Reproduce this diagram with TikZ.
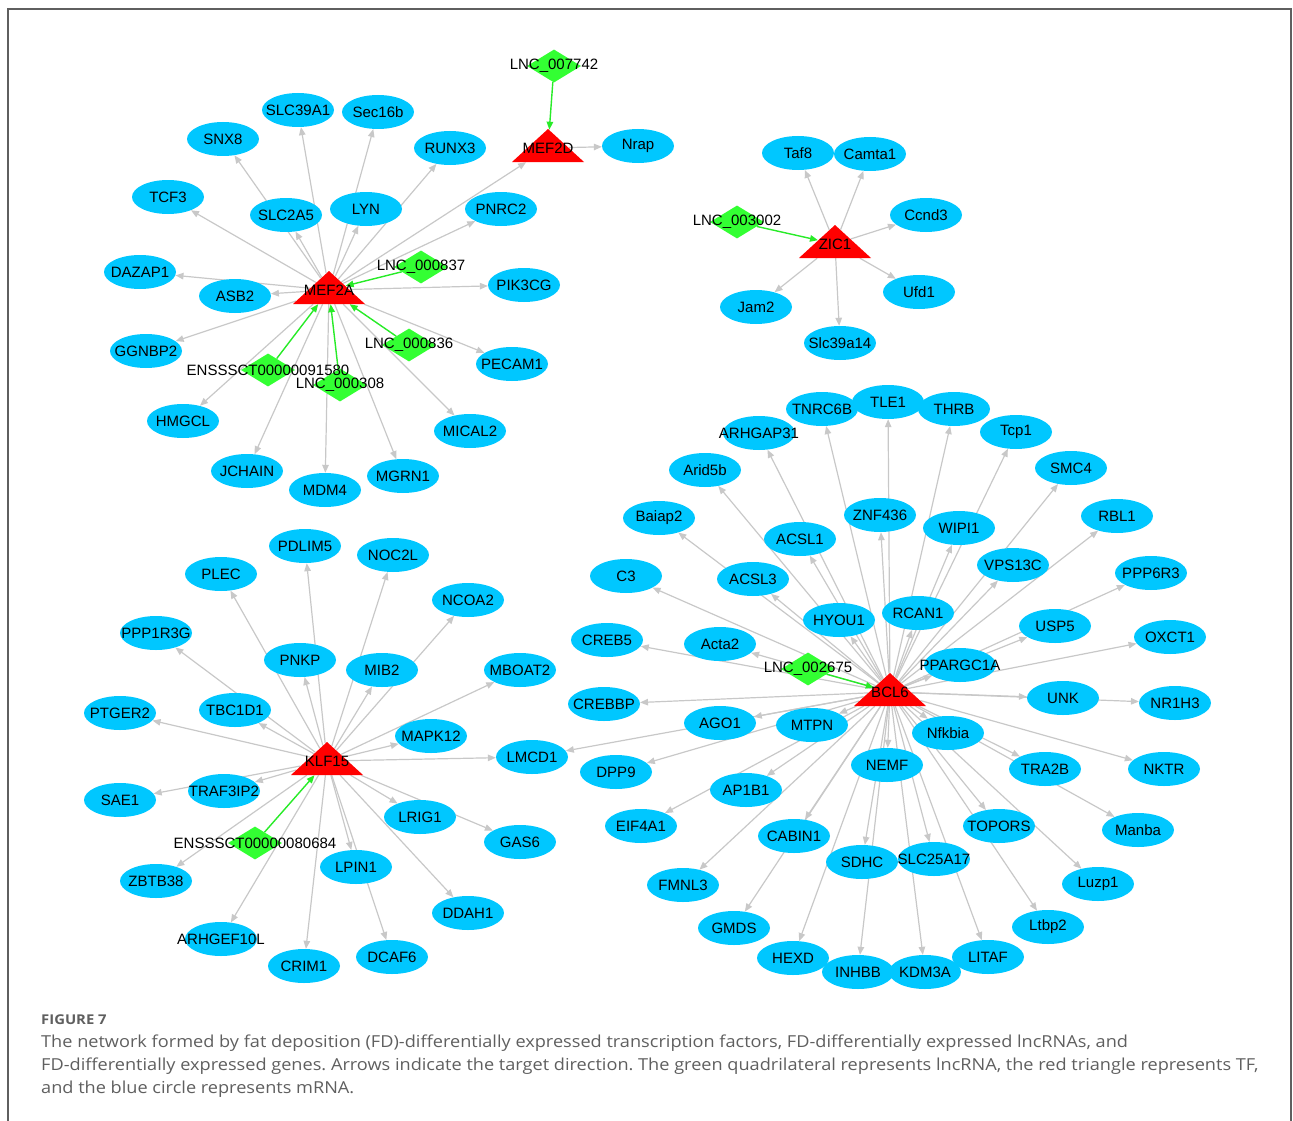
\documentclass[tikz,border=0pt]{standalone}
\usepackage{fontspec}
\setmainfont{Liberation Sans}
\newfontfamily\capfont[FakeStretch=1.1]{Open Sans}
\usepackage{xcolor}
\usepackage{tikz}
\usetikzlibrary{shapes.geometric, arrows.meta}
\pgfdeclarelayer{bg}
\pgfsetlayers{bg,main}
\definecolor{genecol}{RGB}{0,199,255}
\definecolor{lnccol}{RGB}{51,255,51}
\definecolor{tfcol}{RGB}{255,0,0}
\definecolor{edgecol}{RGB}{200,200,200}
\definecolor{lncedge}{RGB}{40,235,40}
\definecolor{capcol}{RGB}{95,95,95}
\frenchspacing

\begin{document}
\begin{tikzpicture}[x=1pt, y=-1pt, font=\fontsize{15}{16}\selectfont]
\tikzstyle{gene} = [ellipse, minimum width=72pt, minimum height=34pt, inner sep=0pt, fill=genecol]
\tikzstyle{lnc} = [diamond, minimum width=54pt, minimum height=33pt, inner sep=0pt, fill=lnccol]
\tikzstyle{tf} = [isosceles triangle, isosceles triangle stretches, shape border rotate=90, minimum width=72pt, minimum height=33pt, inner sep=0pt, fill=tfcol]
\tikzstyle{arrow} = [draw=edgecol, line width=1.2pt, -{Triangle[length=8pt,width=6.5pt]}]
\tikzstyle{lncarrow} = [draw=lncedge, line width=1.4pt, -{Triangle[length=8pt,width=6.5pt]}]
\tikzstyle{capline} = [anchor=base west, inner sep=0pt, text=capcol, font=\capfont\fontsize{16.5}{20}\selectfont]

\useasboundingbox (0,0) rectangle (1293,1121);
\draw [capcol, line width=2pt] (8,1121) -- (8,9) -- (1291,9) -- (1291,1121);

\node (MEF2A) [tf, label=center:MEF2A] at (329,290) {};
\node (MEF2D) [tf, label=center:MEF2D] at (548,148) {};
\node (ZIC1) [tf, label=center:ZIC1] at (835,244) {};
\node (KLF15) [tf, label=center:KLF15] at (327,761) {};
\node (BCL6) [tf, label=center:BCL6] at (890,692) {};

\node (Nrap) [gene, label=center:Nrap] at (638,146) {};
\node (SLC39A1) [gene, label=center:SLC39A1] at (298,110) {};
\node (Sec16b) [gene, label=center:Sec16b] at (378,112) {};
\node (SNX8) [gene, label=center:SNX8] at (223,139) {};
\node (RUNX3) [gene, label=center:RUNX3] at (450,148) {};
\node (TCF3) [gene, label=center:TCF3] at (168,197) {};
\node (SLC2A5) [gene, label=center:SLC2A5] at (286,215) {};
\node (LYN) [gene, label=center:LYN] at (366,209) {};
\node (PNRC2) [gene, label=center:PNRC2] at (501,209) {};
\node (DAZAP1) [gene, label=center:DAZAP1] at (140,272) {};
\node (ASB2) [gene, label=center:ASB2] at (235,296) {};
\node (PIK3CG) [gene, label=center:PIK3CG] at (524,285) {};
\node (GGNBP2) [gene, label=center:GGNBP2] at (146,351) {};
\node (PECAM1) [gene, label=center:PECAM1] at (512,364) {};
\node (HMGCL) [gene, label=center:HMGCL] at (183,421) {};
\node (MICAL2) [gene, label=center:MICAL2] at (470,431) {};
\node (JCHAIN) [gene, label=center:JCHAIN] at (247,471) {};
\node (MDM4) [gene, label=center:MDM4] at (325,490) {};
\node (MGRN1) [gene, label=center:MGRN1] at (403,476) {};
\node (lnc007742) [lnc, label=center:LNC\_007742] at (554,66) {};
\node (lnc000837) [lnc, label=center:LNC\_000837] at (421,267) {};
\node (lnc000836) [lnc, label=center:LNC\_000836] at (409,345) {};
\node (lnc000308) [lnc, label=center:LNC\_000308] at (340,385) {};
\node (ens91580) [lnc, label=center:ENSSSCT00000091580] at (268,370) {};

\node (Taf8) [gene, label=center:Taf8] at (798,153) {};
\node (Camta1) [gene, label=center:Camta1] at (870,154) {};
\node (Ccnd3) [gene, label=center:Ccnd3] at (926,215) {};
\node (Ufd1) [gene, label=center:Ufd1] at (919,292) {};
\node (Jam2) [gene, label=center:Jam2] at (756,307) {};
\node (Slc39a14) [gene, label=center:Slc39a14] at (840,343) {};
\node (lnc003002) [lnc, label=center:LNC\_003002] at (737,222) {};

\node (PDLIM5) [gene, label=center:PDLIM5] at (305,546) {};
\node (NOC2L) [gene, label=center:NOC2L] at (393,555) {};
\node (PLEC) [gene, label=center:PLEC] at (221,574) {};
\node (NCOA2) [gene, label=center:NCOA2] at (468,600) {};
\node (PPP1R3G) [gene, label=center:PPP1R3G] at (156,633) {};
\node (PNKP) [gene, label=center:PNKP] at (300,660) {};
\node (MIB2) [gene, label=center:MIB2] at (382,670) {};
\node (MBOAT2) [gene, label=center:MBOAT2] at (520,670) {};
\node (TBC1D1) [gene, label=center:TBC1D1] at (235,710) {};
\node (PTGER2) [gene, label=center:PTGER2] at (120,713) {};
\node (MAPK12) [gene, label=center:MAPK12] at (431,736) {};
\node (LMCD1) [gene, label=center:LMCD1] at (532,757) {};
\node (TRAF3IP2) [gene, label=center:TRAF3IP2] at (224,791) {};
\node (SAE1) [gene, label=center:SAE1] at (120,800) {};
\node (LRIG1) [gene, label=center:LRIG1] at (420,817) {};
\node (GAS6) [gene, label=center:GAS6] at (520,842) {};
\node (ZBTB38) [gene, label=center:ZBTB38] at (156,881) {};
\node (LPIN1) [gene, label=center:LPIN1] at (356,867) {};
\node (DDAH1) [gene, label=center:DDAH1] at (468,913) {};
\node (ARHGEF10L) [gene, label=center:ARHGEF10L] at (221,939) {};
\node (CRIM1) [gene, label=center:CRIM1] at (304,966) {};
\node (DCAF6) [gene, label=center:DCAF6] at (392,957) {};
\node (ens80684) [lnc, label=center:ENSSSCT00000080684] at (255,843) {};

\node (TLE1) [gene, label=center:TLE1] at (888,402) {};
\node (TNRC6B) [gene, label=center:TNRC6B] at (822,409) {};
\node (THRB) [gene, label=center:THRB] at (954,409) {};
\node (ARHGAP31) [gene, label=center:ARHGAP31] at (759,433) {};
\node (Tcp1) [gene, label=center:Tcp1] at (1016,432) {};
\node (Arid5b) [gene, label=center:Arid5b] at (705,470) {};
\node (SMC4) [gene, label=center:SMC4] at (1071,468) {};
\node (Baiap2) [gene, label=center:Baiap2] at (659,518) {};
\node (ZNF436) [gene, label=center:ZNF436] at (880,515) {};
\node (RBL1) [gene, label=center:RBL1] at (1117,516) {};
\node (ACSL1) [gene, label=center:ACSL1] at (800,539) {};
\node (WIPI1) [gene, label=center:WIPI1] at (959,528) {};
\node (VPS13C) [gene, label=center:VPS13C] at (1013,565) {};
\node (C3) [gene, label=center:C3] at (626,576) {};
\node (ACSL3) [gene, label=center:ACSL3] at (753,579) {};
\node (PPP6R3) [gene, label=center:PPP6R3] at (1151,573) {};
\node (HYOU1) [gene, label=center:HYOU1] at (839,620) {};
\node (RCAN1) [gene, label=center:RCAN1] at (918,613) {};
\node (USP5) [gene, label=center:USP5] at (1055,626) {};
\node (CREB5) [gene, label=center:CREB5] at (607,640) {};
\node (Acta2) [gene, label=center:Acta2] at (720,644) {};
\node (OXCT1) [gene, label=center:OXCT1] at (1170,637) {};
\node (PPARGC1A) [gene, label=center:PPARGC1A] at (960,665) {};
\node (CREBBP) [gene, label=center:CREBBP] at (604,704) {};
\node (UNK) [gene, label=center:UNK] at (1063,698) {};
\node (NR1H3) [gene, label=center:NR1H3] at (1175,703) {};
\node (AGO1) [gene, label=center:AGO1] at (720,723) {};
\node (MTPN) [gene, label=center:MTPN] at (812,725) {};
\node (Nfkbia) [gene, label=center:Nfkbia] at (948,733) {};
\node (DPP9) [gene, label=center:DPP9] at (616,772) {};
\node (NEMF) [gene, label=center:NEMF] at (887,765) {};
\node (TRA2B) [gene, label=center:TRA2B] at (1045,769) {};
\node (NKTR) [gene, label=center:NKTR] at (1164,769) {};
\node (AP1B1) [gene, label=center:AP1B1] at (746,790) {};
\node (EIF4A1) [gene, label=center:EIF4A1] at (641,826) {};
\node (TOPORS) [gene, label=center:TOPORS] at (999,826) {};
\node (Manba) [gene, label=center:Manba] at (1138,830) {};
\node (CABIN1) [gene, label=center:CABIN1] at (794,836) {};
\node (SDHC) [gene, label=center:SDHC] at (862,862) {};
\node (SLC25A17) [gene, label=center:SLC25A17] at (934,859) {};
\node (FMNL3) [gene, label=center:FMNL3] at (683,885) {};
\node (Luzp1) [gene, label=center:Luzp1] at (1098,884) {};
\node (GMDS) [gene, label=center:GMDS] at (734,928) {};
\node (Ltbp2) [gene, label=center:Ltbp2] at (1048,927) {};
\node (HEXD) [gene, label=center:HEXD] at (793,958) {};
\node (LITAF) [gene, label=center:LITAF] at (988,957) {};
\node (INHBB) [gene, label=center:INHBB] at (858,972) {};
\node (KDM3A) [gene, label=center:KDM3A] at (925,972) {};
\node (lnc002675) [lnc, label=center:LNC\_002675] at (808,669) {};

\begin{pgfonlayer}{bg}
\draw [arrow] (MEF2A) -- (DAZAP1);
\draw [arrow] (MEF2A) -- (ASB2);
\draw [arrow] (MEF2A) -- (TCF3);
\draw [arrow] (MEF2A) -- (SNX8);
\draw [arrow] (MEF2A) -- (SLC2A5);
\draw [arrow] (MEF2A) -- (SLC39A1);
\draw [arrow] (MEF2A) -- (LYN);
\draw [arrow] (MEF2A) -- (Sec16b);
\draw [arrow] (MEF2A) -- (RUNX3);
\draw [arrow] (MEF2A) -- (MEF2D);
\draw [arrow] (MEF2A) -- (PNRC2);
\draw [arrow] (MEF2A) -- (PIK3CG);
\draw [arrow] (MEF2A) -- (PECAM1);
\draw [arrow] (MEF2A) -- (MICAL2);
\draw [arrow] (MEF2A) -- (MGRN1);
\draw [arrow] (MEF2A) -- (MDM4);
\draw [arrow] (MEF2A) -- (JCHAIN);
\draw [arrow] (MEF2A) -- (HMGCL);
\draw [arrow] (MEF2A) -- (GGNBP2);
\draw [arrow] (MEF2D) -- (Nrap);
\draw [lncarrow] (lnc007742) -- (MEF2D);
\draw [lncarrow] (lnc000837) -- (MEF2A);
\draw [lncarrow] (lnc000836) -- (MEF2A);
\draw [lncarrow] (lnc000308) -- (MEF2A);
\draw [lncarrow] (ens91580) -- (MEF2A);

\draw [arrow] (ZIC1) -- (Taf8);
\draw [arrow] (ZIC1) -- (Camta1);
\draw [arrow] (ZIC1) -- (Ccnd3);
\draw [arrow] (ZIC1) -- (Ufd1);
\draw [arrow] (ZIC1) -- (Slc39a14);
\draw [arrow] (ZIC1) -- (Jam2);
\draw [lncarrow] (lnc003002) -- (ZIC1);

\draw [arrow] (KLF15) -- (PDLIM5);
\draw [arrow] (KLF15) -- (NOC2L);
\draw [arrow] (KLF15) -- (PLEC);
\draw [arrow] (KLF15) -- (NCOA2);
\draw [arrow] (KLF15) -- (PPP1R3G);
\draw [arrow] (KLF15) -- (PNKP);
\draw [arrow] (KLF15) -- (MIB2);
\draw [arrow] (KLF15) -- (MBOAT2);
\draw [arrow] (KLF15) -- (TBC1D1);
\draw [arrow] (KLF15) -- (PTGER2);
\draw [arrow] (KLF15) -- (MAPK12);
\draw [arrow] (KLF15) -- (LMCD1);
\draw [arrow] (KLF15) -- (TRAF3IP2);
\draw [arrow] (KLF15) -- (SAE1);
\draw [arrow] (KLF15) -- (LRIG1);
\draw [arrow] (KLF15) -- (GAS6);
\draw [arrow] (KLF15) -- (ZBTB38);
\draw [arrow] (KLF15) -- (LPIN1);
\draw [arrow] (KLF15) -- (DDAH1);
\draw [arrow] (KLF15) -- (ARHGEF10L);
\draw [arrow] (KLF15) -- (CRIM1);
\draw [arrow] (KLF15) -- (DCAF6);
\draw [lncarrow] (ens80684) -- (KLF15);

\draw [arrow] (BCL6) -- (TLE1);
\draw [arrow] (BCL6) -- (TNRC6B);
\draw [arrow] (BCL6) -- (THRB);
\draw [arrow] (BCL6) -- (ARHGAP31);
\draw [arrow] (BCL6) -- (Tcp1);
\draw [arrow] (BCL6) -- (Arid5b);
\draw [arrow] (BCL6) -- (SMC4);
\draw [arrow] (BCL6) -- (Baiap2);
\draw [arrow] (BCL6) -- (ZNF436);
\draw [arrow] (BCL6) -- (RBL1);
\draw [arrow] (BCL6) -- (ACSL1);
\draw [arrow] (BCL6) -- (WIPI1);
\draw [arrow] (BCL6) -- (VPS13C);
\draw [arrow] (BCL6) -- (C3);
\draw [arrow] (BCL6) -- (ACSL3);
\draw [arrow] (BCL6) -- (PPP6R3);
\draw [arrow] (BCL6) -- (HYOU1);
\draw [arrow] (BCL6) -- (RCAN1);
\draw [arrow] (BCL6) -- (USP5);
\draw [arrow] (BCL6) -- (CREB5);
\draw [arrow] (BCL6) -- (Acta2);
\draw [arrow] (BCL6) -- (OXCT1);
\draw [arrow] (BCL6) -- (PPARGC1A);
\draw [arrow] (BCL6) -- (CREBBP);
\draw [arrow] (BCL6) -- (UNK);
\draw [arrow] (BCL6) -- (NR1H3);
\draw [arrow] (BCL6) -- (AGO1);
\draw [arrow] (BCL6) -- (LMCD1);
\draw [arrow] (BCL6) -- (MTPN);
\draw [arrow] (BCL6) -- (Nfkbia);
\draw [arrow] (BCL6) -- (DPP9);
\draw [arrow] (BCL6) -- (NEMF);
\draw [arrow] (BCL6) -- (TRA2B);
\draw [arrow] (BCL6) -- (NKTR);
\draw [arrow] (BCL6) -- (AP1B1);
\draw [arrow] (BCL6) -- (EIF4A1);
\draw [arrow] (BCL6) -- (TOPORS);
\draw [arrow] (BCL6) -- (Manba);
\draw [arrow] (BCL6) -- (CABIN1);
\draw [arrow] (BCL6) -- (SDHC);
\draw [arrow] (BCL6) -- (SLC25A17);
\draw [arrow] (BCL6) -- (FMNL3);
\draw [arrow] (BCL6) -- (Luzp1);
\draw [arrow] (BCL6) -- (GMDS);
\draw [arrow] (BCL6) -- (Ltbp2);
\draw [arrow] (BCL6) -- (HEXD);
\draw [arrow] (BCL6) -- (LITAF);
\draw [arrow] (BCL6) -- (INHBB);
\draw [arrow] (BCL6) -- (KDM3A);
\draw [lncarrow] (lnc002675) -- (BCL6);
\end{pgfonlayer}

\node (fig) [capline, font=\capfont\bfseries\fontsize{13.5}{16}\selectfont] at (41,1024) {FIGURE 7};
\node (cap1) [capline] at (41,1047) {The network formed by fat deposition (FD)-differentially expressed transcription factors, FD-differentially expressed lncRNAs, and};
\node (cap2) [capline] at (41,1070) {FD-differentially expressed genes. Arrows indicate the target direction. The green quadrilateral represents lncRNA, the red triangle represents TF,};
\node (cap3) [capline] at (41,1093) {and the blue circle represents mRNA.};
\end{tikzpicture}
\end{document}
